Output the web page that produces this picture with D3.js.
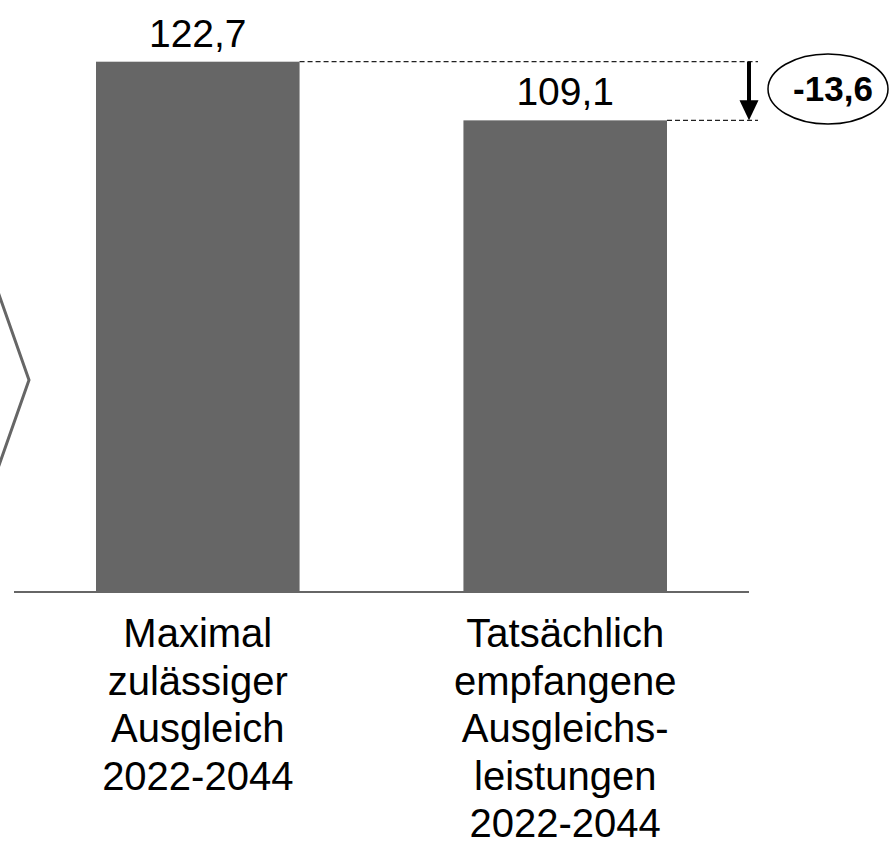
<!DOCTYPE html>
<html>
<head>
<meta charset="utf-8">
<script src="https://d3js.org/d3.v7.min.js"></script>
<style>
  body { margin: 0; background: #fff; }
  svg { display: block; }
</style>
</head>
<body>
<script>
// data
const categories = ["Maximal zulässiger Ausgleich 2022-2044", "Tatsächlich empfangene Ausgleichs- leistungen 2022-2044"];
const labelLines = [
  ["Maximal", "zulässiger", "Ausgleich", "2022-2044"],
  ["Tatsächlich", "empfangene", "Ausgleichs-", "leistungen", "2022-2044"]
];
const values = [122.7, 109.1];

const width = 890, height = 846;
const barColor = "#666666";
const font = "'Liberation Sans', Arial, sans-serif";

// German number format, plain hyphen as minus
const de = d3.formatLocale({ decimal: ",", thousands: ".", grouping: [3], currency: ["", " €"], minus: "-" });
const fmt = de.format(".1f");

const svg = d3.select("body").append("svg")
  .attr("width", width)
  .attr("height", height);

const x = d3.scaleBand()
  .domain(categories)
  .range([96, 667])
  .paddingInner(0.446);

const y = d3.scaleLinear()
  .domain([0, values[0]])
  .range([591, 61.7]);

const data = categories.map((c, i) => ({ cat: c, value: values[i], lines: labelLines[i] }));

// chevron on the left (decoration)
svg.append("path")
  .attr("d", "M-3,289 L29,380 L-3,471")
  .attr("fill", "none")
  .attr("stroke", "#666")
  .attr("stroke-width", 3);

// bars
svg.selectAll("rect.bar")
  .data(data)
  .enter()
  .append("rect")
  .attr("class", "bar")
  .attr("x", d => x(d.cat))
  .attr("y", d => y(d.value))
  .attr("width", x.bandwidth())
  .attr("height", d => y(0) - y(d.value))
  .attr("fill", barColor);

// baseline
svg.append("line")
  .attr("x1", 14).attr("x2", 749)
  .attr("y1", y(0) + 1).attr("y2", y(0) + 1)
  .attr("stroke", "#666")
  .attr("stroke-width", 2);

// value labels
svg.selectAll("text.val")
  .data(data)
  .enter()
  .append("text")
  .attr("class", "val")
  .attr("x", d => x(d.cat) + x.bandwidth() / 2)
  .attr("y", d => y(d.value) - 15)
  .attr("text-anchor", "middle")
  .style("font-family", font)
  .style("font-size", "39px")
  .attr("fill", "#000")
  .text(d => fmt(d.value));

// category labels
const cat = svg.selectAll("text.cat")
  .data(data)
  .enter()
  .append("text")
  .attr("class", "cat")
  .attr("x", d => x(d.cat) + x.bandwidth() / 2)
  .attr("y", 647)
  .attr("text-anchor", "middle")
  .style("font-family", font)
  .style("font-size", "40px")
  .attr("fill", "#000");

cat.selectAll("tspan")
  .data(d => d.lines.map(l => ({ l, cx: x(d.cat) + x.bandwidth() / 2 })))
  .enter()
  .append("tspan")
  .attr("x", d => d.cx)
  .attr("dy", (d, i) => i === 0 ? 0 : 47.5)
  .text(d => d.l);

// difference annotation
const arrowX = 749;
const dashEnd = 758;
[0, 1].forEach(i => {
  svg.append("line")
    .attr("x1", x(categories[i]) + x.bandwidth())
    .attr("x2", dashEnd)
    .attr("y1", y(values[i])).attr("y2", y(values[i]))
    .attr("stroke", "#222")
    .attr("stroke-width", 1.2)
    .attr("stroke-dasharray", "5,3");
});

svg.append("line")
  .attr("x1", arrowX).attr("x2", arrowX)
  .attr("y1", y(values[0])).attr("y2", y(values[1]) - 18)
  .attr("stroke", "#000")
  .attr("stroke-width", 4);

svg.append("path")
  .attr("d", `M${arrowX - 9.5},${y(values[1]) - 20} L${arrowX + 9.5},${y(values[1]) - 20} L${arrowX},${y(values[1])} Z`)
  .attr("fill", "#000");

const diff = values[1] - values[0];
svg.append("ellipse")
  .attr("cx", 828).attr("cy", 89)
  .attr("rx", 60).attr("ry", 35)
  .attr("fill", "#fff")
  .attr("stroke", "#000")
  .attr("stroke-width", 1.5);

svg.append("text")
  .attr("x", 833)
  .attr("y", 101)
  .attr("text-anchor", "middle")
  .style("font-family", font)
  .style("font-size", "35px")
  .style("font-weight", "bold")
  .attr("fill", "#000")
  .text(fmt(diff));
</script>
</body>
</html>
